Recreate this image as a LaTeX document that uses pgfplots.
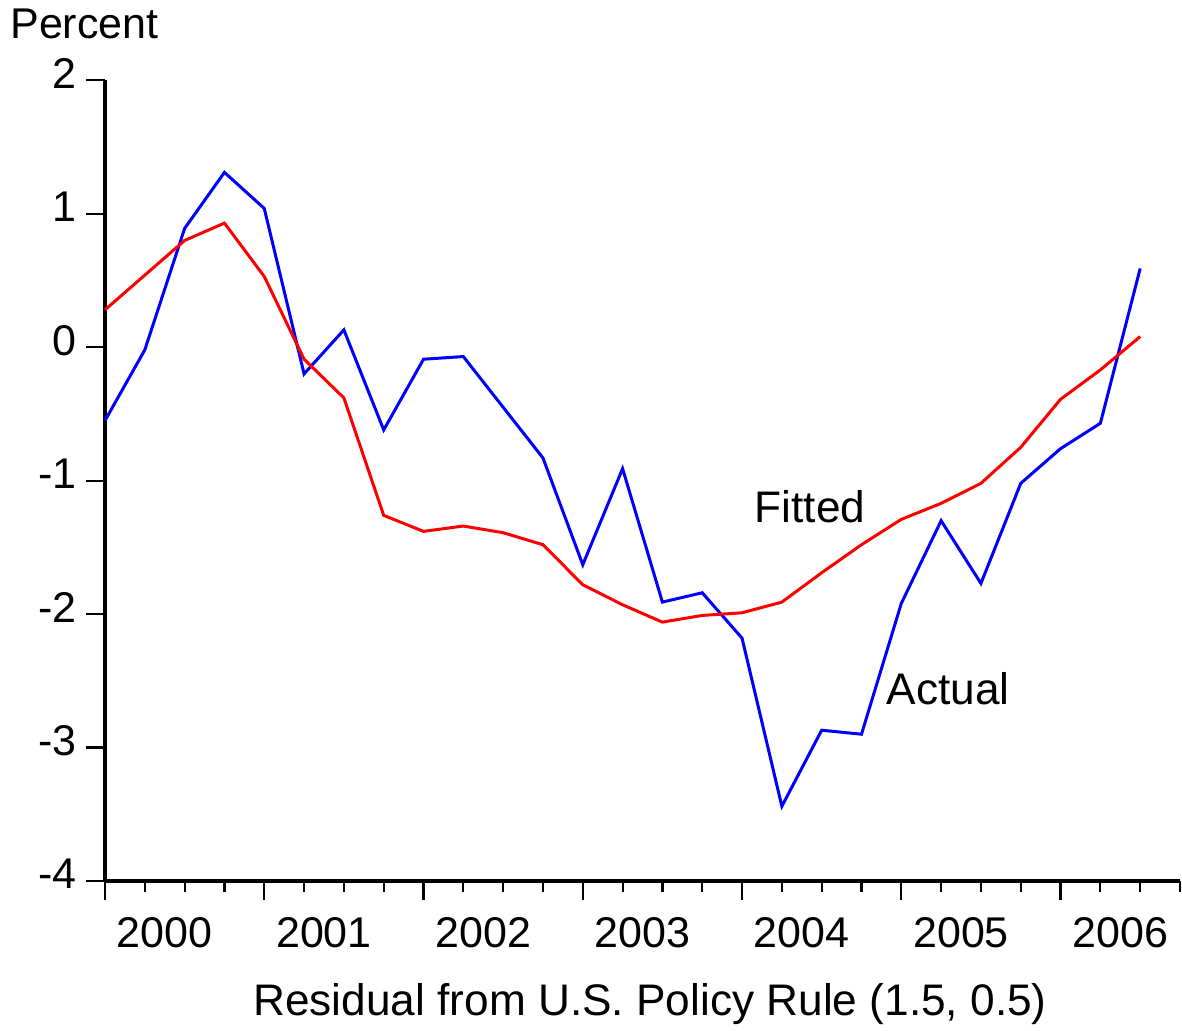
\documentclass[border=0pt]{standalone}
\usepackage{fontspec}
\setmainfont{Liberation Sans}
\usepackage{pgfplots}
\pgfplotsset{compat=1.18}

% quarterly residuals, 2000Q1 = 0
\pgfplotstableread{
q  actual fitted
0  -0.55  0.28
1  -0.02  0.54
2   0.89  0.80
3   1.31  0.93
4   1.04  0.53
5  -0.20 -0.09
6   0.13 -0.38
7  -0.62 -1.26
8  -0.09 -1.38
9  -0.07 -1.34
10 -0.45 -1.39
11 -0.83 -1.48
12 -1.63 -1.78
13 -0.91 -1.93
14 -1.91 -2.06
15 -1.84 -2.01
16 -2.18 -1.99
17 -3.44 -1.91
18 -2.87 -1.69
19 -2.90 -1.48
20 -1.92 -1.29
21 -1.30 -1.17
22 -1.77 -1.02
23 -1.02 -0.75
24 -0.76 -0.39
25 -0.57 -0.17
26  0.59  0.08
}\resid

\newcommand{\lbl}{\fontsize{21.5}{26}\selectfont}
\newcommand{\lbll}{\fontsize{22.1}{26}\selectfont}

\begin{document}
\begin{tikzpicture}
\begin{axis}[
    scale only axis,
    width=537.5pt, height=400.35pt,
    xmin=0, xmax=27, ymin=-4, ymax=2,
    axis x line*=bottom, axis y line*=left,
    axis line style={line width=2pt},
    tick align=outside,
    major tick length=9.5pt, minor tick length=5.5pt,
    tick style={line width=1.1pt, black},
    ytick={-4,...,2},
    yticklabels={-4,-3,-2,-1,0,1,2},
    yticklabel style={anchor=east, inner sep=0pt, xshift=-4.5pt, yshift=3.5pt},
    xtick={0,4,...,24}, xticklabels={},
    minor xtick={0,...,27},
    extra x ticks={1.5,5.5,...,25.5},
    extra x tick labels={2000,2001,2002,2003,2004,2005,2006},
    extra x tick style={major tick length=0pt, tick style={draw=none},
        xticklabel style={anchor=north, inner sep=0pt, yshift=-18pt}},
    tick label style={font=\lbl},
    xlabel={Residual from U.S. Policy Rule (1.5, 0.5)},
    xlabel style={font=\lbll, at={(axis description cs:0.507,0)}, anchor=base, yshift=-67pt},
    clip=false,
]
\addplot[blue, line width=1.5pt] table[x=q, y=actual] {\resid};
\addplot[red, line width=1.5pt] table[x=q, y=fitted] {\resid};
\node[anchor=base, font=\lbll] at (axis cs:17.71,-1.31) {Fitted};
\node[anchor=base, font=\lbll] at (axis cs:21.18,-2.68) {Actual};
\end{axis}
\node[anchor=base west, inner sep=0pt, font=\lbl] at (-47.5pt,421pt) {Percent};
\pgfresetboundingbox
\path[use as bounding box] (-52.5pt,-74.5pt) rectangle (538.5pt,440.5pt);
\end{tikzpicture}
\end{document}
